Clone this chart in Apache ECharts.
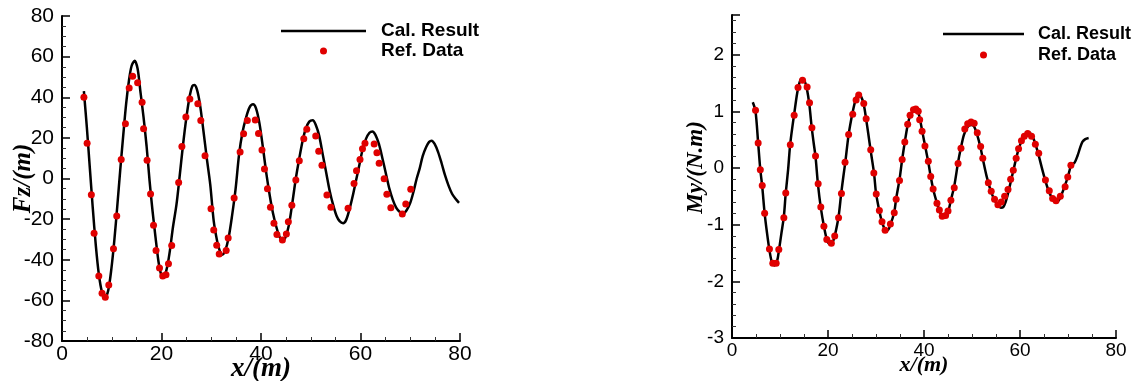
<!DOCTYPE html>
<html>
<head>
<meta charset="utf-8">
<script src="https://cdn.jsdelivr.net/npm/echarts@6/dist/echarts.min.js"></script>
<style>
html,body{margin:0;padding:0;background:#fff;}
#chart{width:1136px;height:381px;}
</style>
</head>
<body>
<div id="chart"></div>
<script>
// ---- Data ----
const legendNames = ['Cal. Result', 'Ref. Data'];

// Left panel: Fz vs x, calculated curve
const fzCal = [[4.4,43],[5.0,25],[5.6,5],[6.2,-15],[6.8,-33],[7.4,-47],[8.0,-55.5],[8.7,-58.5],[9.3,-55],[9.9,-45],
[10.5,-31],[11.1,-14],[11.7,4],[12.3,21],[12.9,37],[13.5,49],[14.0,55.5],[14.6,58],[15.2,54],[15.8,42],
[16.4,30],[17.0,16],[17.6,-1],[18.2,-16],[18.8,-29],[19.4,-41],[19.9,-47],[20.4,-48.5],[21.0,-45],[21.6,-37],
[22.3,-24],[23.0,-13],[23.6,0],[24.3,16],[25.0,30],[25.7,41],[26.2,45.5],[26.6,46],[27.1,44],[27.7,37],
[28.4,24],[29.1,10],[29.8,-3],[30.5,-21],[31.2,-31],[31.7,-35.5],[32.2,-37.5],[32.8,-35.5],[33.5,-29],[34.2,-18],
[34.9,-5],[35.6,12],[36.3,23],[37.0,30],[37.7,35],[38.4,36.5],[39.0,34.5],[39.7,27],[40.4,15],[41.1,2],
[41.8,-9],[42.4,-17],[43.1,-24],[43.7,-28.5],[44.3,-30.5],[44.9,-29],[45.6,-23],[46.3,-12],[47.0,0],[47.7,10],
[48.4,19],[49.0,24.5],[49.7,28],[50.4,28.7],[51.0,26.5],[51.7,21],[52.4,12],[53.1,3],[53.8,-6],[54.5,-13],
[55.2,-18.5],[55.8,-21],[56.5,-22],[57.1,-20.5],[57.8,-15],[58.4,-9],[59.1,-1],[59.8,7],[60.4,14],[61.1,19.5],
[61.8,22.5],[62.4,23.2],[63.0,21.5],[63.7,17],[64.4,10],[65.1,2.5],[65.8,-5],[66.5,-10.5],[67.2,-14.5],[67.9,-16.5],
[68.6,-17.2],[69.3,-15.5],[70.0,-12],[70.6,-7],[71.3,0],[71.9,5],[72.5,11],[73.2,15.5],[73.8,18],[74.3,18.6],
[74.9,17],[75.6,13],[76.3,7.5],[77.0,1.5],[77.7,-3.5],[78.4,-7.5],[79.1,-10],[79.8,-12]];

// Left panel: reference data points
const fzRef = [[4.4,40],[5.05,17.3],[5.9,-8],[6.45,-27],[7.4,-48],[8.05,-56.5],[8.7,-58.5],[9.4,-52.4],[10.35,-34.6],[11.0,-18.5],
[11.9,9.4],[12.75,27],[13.5,44.6],[14.2,50.3],[15.2,47.2],[16.1,37.5],[16.4,24.5],[17.1,9],[17.8,-7.6],[18.4,-23],
[18.9,-35.5],[19.6,-44],[20.25,-48],[20.9,-47.4],[21.4,-42],[22.05,-33],[23.45,-2],[24.1,15.8],[24.9,30.3],[25.7,39.1],
[27.3,36.8],[27.9,28.5],[28.75,11.2],[29.95,-14.9],[30.5,-25.4],[31.1,-32.9],[31.6,-37.2],[33.0,-35.5],[33.4,-29.3],[34.6,-9.6],
[35.8,13],[36.5,22],[37.25,28.6],[38.85,28.8],[39.5,22.2],[40.2,14],[40.7,4.7],[41.3,-5],[41.9,-14.2],[42.6,-22],
[43.2,-27.6],[44.3,-30.3],[45.1,-27.3],[45.5,-21.3],[46.2,-13.2],[47.0,-0.7],[47.7,8.8],[48.6,19.6],[49.2,24.2],[51.0,20.9],
[51.6,13.4],[52.25,6.5],[53.25,-8.1],[54.05,-14.2],[57.5,-14.7],[58.7,-2.4],[59.2,3.8],[59.9,9.4],[60.4,14.7],[60.9,17.3],
[62.75,17],[63.3,12.7],[63.75,7.5],[64.75,-0.1],[65.3,-7.8],[66.1,-14.4],[68.4,-17.5],[69.1,-12.6],[70.1,-5.3]];

// Right panel: My vs x, calculated curve
const myCal = [[4.33,1.16],[4.9,1.0],[5.45,0.44],[5.9,-0.03],[6.3,-0.33],[6.8,-0.80],[7.3,-1.15],[7.8,-1.45],[8.3,-1.66],[8.85,-1.72],
[9.4,-1.64],[9.8,-1.44],[10.3,-1.15],[10.8,-0.86],[11.2,-0.44],[11.7,-0.02],[12.1,0.40],[12.6,0.74],[13.0,0.98],[13.5,1.28],
[13.9,1.46],[14.3,1.56],[14.7,1.58],[15.2,1.52],[15.6,1.40],[16.1,1.13],[16.6,0.72],[17.0,0.45],[17.4,0.20],[17.9,-0.28],
[18.5,-0.70],[19.2,-1.05],[19.8,-1.27],[20.4,-1.35],[21.0,-1.30],[21.4,-1.20],[22.2,-0.86],[22.75,-0.45],[23.2,-0.15],[23.6,0.10],
[24.3,0.59],[25.1,0.97],[25.8,1.22],[26.3,1.30],[26.9,1.26],[27.45,1.12],[27.95,0.86],[28.4,0.60],[28.9,0.30],[29.6,-0.10],
[30.0,-0.44],[30.7,-0.76],[31.3,-0.97],[31.9,-1.09],[32.4,-1.10],[33.0,-1.00],[33.8,-0.78],[34.2,-0.54],[34.9,-0.20],[35.45,0.15],
[36.0,0.46],[36.6,0.76],[37.1,0.92],[37.7,1.00],[38.2,1.02],[38.8,0.98],[39.3,0.80],[39.7,0.62],[40.3,0.36],[40.9,0.10],
[41.4,-0.15],[41.9,-0.37],[42.7,-0.62],[43.2,-0.75],[43.7,-0.84],[44.2,-0.87],[44.7,-0.84],[45.2,-0.72],[45.6,-0.57],[46.3,-0.32],
[47.1,0.10],[47.7,0.36],[48.3,0.58],[48.9,0.70],[49.4,0.75],[49.9,0.76],[50.4,0.74],[51.1,0.58],[51.8,0.35],[52.4,0.10],
[53.0,-0.13],[53.6,-0.32],[54.2,-0.47],[54.8,-0.58],[55.4,-0.66],[56.0,-0.70],[56.5,-0.69],[57.0,-0.60],[57.5,-0.45],[58.05,-0.25],
[58.6,-0.05],[59.2,0.17],[59.7,0.33],[60.3,0.47],[60.9,0.57],[61.4,0.62],[61.8,0.63],[62.3,0.60],[62.8,0.52],[63.3,0.40],
[63.9,0.22],[64.5,0.02],[65.1,-0.17],[65.7,-0.34],[66.3,-0.47],[66.9,-0.56],[67.5,-0.60],[68.1,-0.57],[68.7,-0.46],[69.4,-0.30],
[70.0,-0.15],[70.6,0.03],[71.4,0.10],[72.0,0.22],[72.5,0.35],[73.0,0.46],[73.6,0.51],[74.3,0.53]];

// Right panel: reference data points
const myRef = [[4.9,1.02],[5.45,0.44],[5.9,-0.03],[6.3,-0.31],[6.8,-0.80],[7.8,-1.43],[8.5,-1.68],[9.2,-1.68],[9.75,-1.44],[10.8,-0.88],
[11.2,-0.44],[12.15,0.41],[12.95,0.93],[13.75,1.42],[14.7,1.55],[15.65,1.43],[16.15,1.15],[16.65,0.71],[17.4,0.21],[17.95,-0.28],
[18.5,-0.69],[19.15,-1.03],[19.75,-1.26],[20.7,-1.33],[21.4,-1.20],[22.2,-0.88],[22.8,-0.45],[23.55,0.10],[24.3,0.59],[25.15,0.95],
[25.85,1.20],[26.4,1.29],[27.45,1.14],[27.95,0.87],[28.9,0.32],[29.55,-0.09],[30.05,-0.46],[30.7,-0.75],[31.25,-0.95],[31.9,-1.10],
[33.0,-0.99],[33.8,-0.79],[34.2,-0.55],[34.9,-0.22],[35.45,0.15],[36.0,0.46],[36.6,0.77],[37.1,0.93],[37.8,1.03],[38.3,1.04],
[38.8,1.00],[39.1,0.85],[39.6,0.65],[40.2,0.39],[40.9,0.12],[41.4,-0.15],[41.9,-0.37],[42.7,-0.62],[43.2,-0.74],[43.8,-0.85],
[44.5,-0.84],[45.0,-0.76],[45.6,-0.57],[46.3,-0.35],[47.1,0.08],[47.7,0.35],[48.5,0.69],[49.1,0.78],[49.8,0.81],[50.45,0.79],
[51.1,0.62],[51.8,0.38],[52.25,0.17],[53.4,-0.26],[54.0,-0.41],[54.7,-0.55],[55.4,-0.65],[56.1,-0.60],[56.8,-0.50],[57.5,-0.38],
[58.05,-0.20],[58.6,-0.04],[59.2,0.17],[59.7,0.34],[60.3,0.48],[60.9,0.56],[61.6,0.61],[62.4,0.56],[63.2,0.42],[63.9,0.26],
[65.3,-0.21],[66.1,-0.40],[66.8,-0.54],[67.5,-0.58],[68.4,-0.50],[69.4,-0.33],[69.95,-0.16],[70.6,0.05]];

// Axis ranges: [min, max, interval]
const xRange = [0, 80, 20];
const fzRange = [-80, 80, 20];
const myRange = [-3, 2.7, 1];

// ---- Chart ----
const SANS = 'Arial, "Liberation Sans", sans-serif';
const SERIF = '"Times New Roman", "Liberation Serif", serif';
const chart = echarts.init(document.getElementById('chart'), null, {renderer: 'canvas'});

function baseAxis(range, labelSize, minorSplit, labelMargin) {
  return {
    type: 'value', min: range[0], max: range[1], interval: range[2],
    axisLine: {show: true, onZero: false, lineStyle: {color: '#000', width: 2}},
    axisTick: {show: true, inside: true, length: 8, lineStyle: {color: '#000', width: 1.5}},
    minorTick: {show: true, splitNumber: minorSplit, length: 4, lineStyle: {color: '#333', width: 1}},
    splitLine: {show: false},
    axisLabel: {color: '#000', fontSize: labelSize, fontFamily: SANS, margin: labelMargin},
    nameLocation: 'middle',
    nameMoveOverlap: false
  };
}

const xL = Object.assign(baseAxis(xRange, 21, 4, 3), {gridIndex: 0, name: 'x/(m)', nameGap: 15,
  nameTextStyle: {fontFamily: SERIF, fontStyle: 'italic', fontWeight: 'bold', fontSize: 27, color: '#000'}});
const xR = Object.assign(baseAxis(xRange, 19, 4, 3), {gridIndex: 1, name: 'x/(m)', nameGap: 16,
  nameTextStyle: {fontFamily: SERIF, fontStyle: 'italic', fontWeight: 'bold', fontSize: 22, color: '#000'}});
const yL = Object.assign(baseAxis(fzRange, 21, 4, 8), {gridIndex: 0, name: 'Fz/(m)', nameGap: 26, nameRotate: 90,
  nameTextStyle: {fontFamily: SERIF, fontStyle: 'italic', fontWeight: 'bold', fontSize: 25, color: '#000'}});
const yR = Object.assign(baseAxis(myRange, 19, 5, 8), {gridIndex: 1, name: 'My/(N.m)', nameGap: 24, nameRotate: 90,
  nameTextStyle: {fontFamily: SERIF, fontStyle: 'italic', fontWeight: 'bold', fontSize: 23, color: '#000',
    padding: [0, 0, 0, 18]}});
yR.axisLabel.showMaxLabel = false;

const lineIcon = 'path://M0,0H85V2.6H0Z';

function legendCfg(left, top, w, size, lh, pad) {
  return {
    left: left, top: top, orient: 'vertical', padding: 0, itemWidth: w, itemHeight: 7, itemGap: 0,
    selectedMode: false,
    data: [{name: legendNames[0], icon: lineIcon}, {name: legendNames[1], icon: 'circle'}],
    textStyle: {fontSize: size, fontWeight: 'bold', fontFamily: SANS, color: '#000', lineHeight: lh, padding: [0, 0, 0, pad]}
  };
}

const option = {
  backgroundColor: '#fff',
  animation: false,
  grid: [
    {left: 62, top: 16, width: 398, height: 325, containLabel: false, outerBoundsMode: 'none'},
    {left: 732, top: 15, width: 384, height: 323, containLabel: false, outerBoundsMode: 'none'}
  ],
  xAxis: [xL, xR],
  yAxis: [yL, yR],
  legend: [
    legendCfg(281, 21, 85, 19, 20, 10),
    legendCfg(943, 23.5, 81, 18, 21, 9)
  ],
  series: [
    {name: legendNames[0], type: 'line', xAxisIndex: 0, yAxisIndex: 0, data: fzCal,
     symbol: 'none', smooth: 0.3, lineStyle: {color: '#000', width: 2.5}, itemStyle: {color: '#000'}, z: 2},
    {name: legendNames[1], type: 'scatter', xAxisIndex: 0, yAxisIndex: 0, data: fzRef,
     symbol: 'circle', symbolSize: 7, itemStyle: {color: '#e00000', opacity: 1}, z: 3},
    {name: legendNames[0], type: 'line', xAxisIndex: 1, yAxisIndex: 1, data: myCal,
     symbol: 'none', smooth: 0.3, lineStyle: {color: '#000', width: 2.5}, itemStyle: {color: '#000'}, z: 2},
    {name: legendNames[1], type: 'scatter', xAxisIndex: 1, yAxisIndex: 1, data: myRef,
     symbol: 'circle', symbolSize: 7, itemStyle: {color: '#e00000', opacity: 1}, z: 3}
  ]
};
chart.setOption(option);
</script>
</body>
</html>
